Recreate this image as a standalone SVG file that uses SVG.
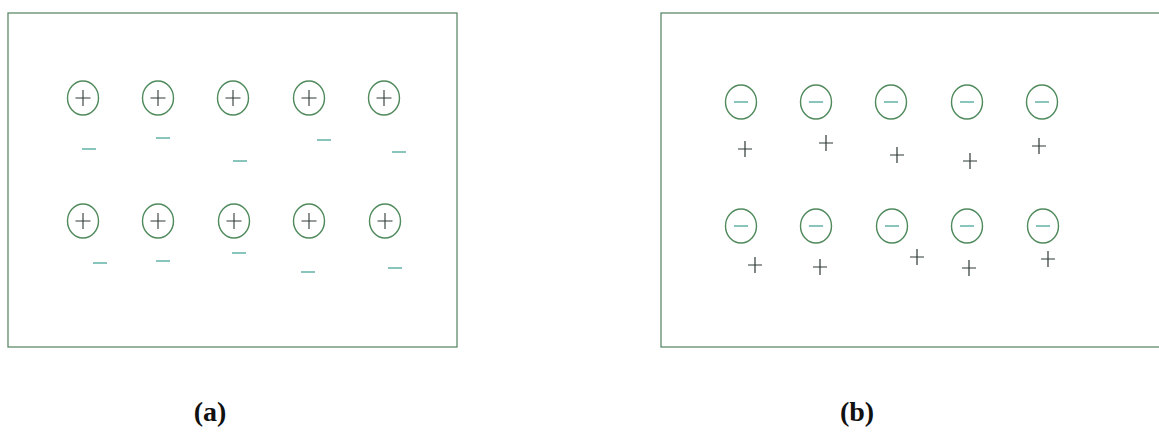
<svg xmlns="http://www.w3.org/2000/svg" width="1159" height="433" viewBox="0 0 1159 433">
<style>
.box{fill:none;stroke:#5f8a6a;stroke-width:1.3}
.ion{fill:none;stroke:#4f8a5c;stroke-width:1.4}
.sgn{stroke:#2f3a34;stroke-width:1.1;fill:none}
.min{stroke:#4aa59a;stroke-width:1.3;fill:none}
.pl{stroke:#2f3a34;stroke-width:1.2;fill:none}
.lbl{font-family:"Liberation Serif",serif;font-weight:bold;font-size:28px;fill:#111;text-anchor:middle}
</style>
<defs>
<g id="pion"><ellipse class="ion" cx="0" cy="0" rx="15.5" ry="17"/><path class="sgn" d="M-7.5 0H7.5M0 -8V8"/></g>
<g id="nion"><ellipse class="ion" cx="0" cy="0" rx="15.5" ry="17"/><path class="min" d="M-7 0H7"/></g>
<path id="m" class="min" d="M-7 0H7"/>
<path id="p" class="pl" d="M-7 0H7M0 -8V8"/>
</defs>
<g id="panel-a">
<rect class="box" x="8" y="13" width="449" height="334"/>
<g id="a-ions">
<use href="#pion" x="83" y="98"/><use href="#pion" x="158" y="98"/><use href="#pion" x="233" y="98"/><use href="#pion" x="309" y="98"/><use href="#pion" x="384" y="98"/>
<use href="#pion" x="83" y="221"/><use href="#pion" x="158" y="221"/><use href="#pion" x="234" y="221"/><use href="#pion" x="309" y="221"/><use href="#pion" x="385" y="221"/>
</g>
<g id="a-electrons">
<use href="#m" x="89" y="149"/><use href="#m" x="163" y="138"/><use href="#m" x="240" y="161"/><use href="#m" x="324" y="140"/><use href="#m" x="399" y="152"/>
<use href="#m" x="100" y="263"/><use href="#m" x="163" y="261"/><use href="#m" x="239" y="253"/><use href="#m" x="308" y="272"/><use href="#m" x="395" y="268"/>
</g>
<text class="lbl" x="210" y="421">(a)</text>
</g>
<g id="panel-b">
<rect class="box" x="661" y="13" width="510" height="334"/>
<g id="b-ions">
<use href="#nion" x="741" y="102"/><use href="#nion" x="816" y="102"/><use href="#nion" x="891" y="102"/><use href="#nion" x="967" y="102"/><use href="#nion" x="1042" y="102"/>
<use href="#nion" x="741" y="226"/><use href="#nion" x="816" y="226"/><use href="#nion" x="892" y="226"/><use href="#nion" x="967" y="226"/><use href="#nion" x="1043" y="226"/>
</g>
<g id="b-holes">
<use href="#p" x="745" y="149"/><use href="#p" x="826" y="143"/><use href="#p" x="897" y="155"/><use href="#p" x="970" y="161"/><use href="#p" x="1039" y="146"/>
<use href="#p" x="755" y="265"/><use href="#p" x="820" y="267"/><use href="#p" x="917" y="257"/><use href="#p" x="969" y="268"/><use href="#p" x="1048" y="259"/>
</g>
<text class="lbl" x="857" y="421">(b)</text>
</g>
</svg>
